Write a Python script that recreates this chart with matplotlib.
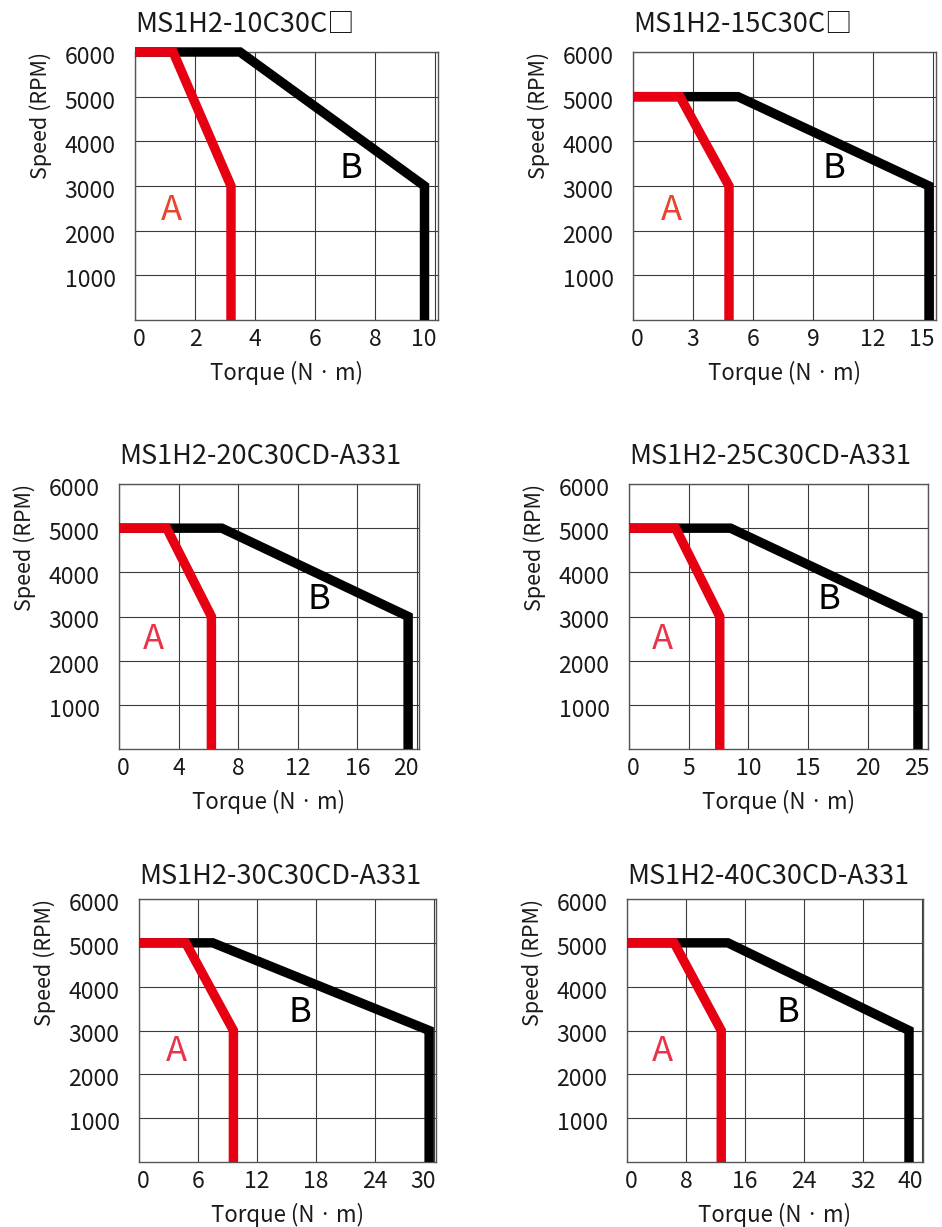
import matplotlib
matplotlib.use("Agg")
import matplotlib.pyplot as plt
from matplotlib.transforms import ScaledTranslation

plt.rcParams['font.family'] = ['Noto Sans CJK SC', 'DejaVu Sans']

# Servo motor models (3000 rpm rated series)
models = ["MS1H2-10C30C□", "MS1H2-15C30C□",
          "MS1H2-20C30CD-A331", "MS1H2-25C30CD-A331",
          "MS1H2-30C30CD-A331", "MS1H2-40C30CD-A331"]

# Speed points (RPM)
max_speed = [6000, 5000, 5000, 5000, 5000, 5000]
rated_speed = [3000, 3000, 3000, 3000, 3000, 3000]

# A: continuous operating region boundary (torque, N·m)
cont_knee_torque = [1.27, 2.35, 3.2, 3.9, 4.75, 6.4]
cont_rated_torque = [3.2, 4.8, 6.2, 7.6, 9.6, 12.8]

# B: short-time (peak) operating region boundary (torque, N·m)
peak_knee_torque = [3.5, 5.25, 6.9, 8.5, 7.5, 13.7]
peak_max_torque = [9.65, 14.8, 19.4, 24.2, 29.5, 38.3]

# Torque axis ticks per model
torque_ticks = [[0, 2, 4, 6, 8, 10],
                [0, 3, 6, 9, 12, 15],
                [0, 4, 8, 12, 16, 20],
                [0, 5, 10, 15, 20, 25],
                [0, 6, 12, 18, 24, 30],
                [0, 8, 16, 24, 32, 40]]
torque_max = [10.1, 15.15, 20.13, 25.04, 30.2, 40.2]
speed_ticks = [1000, 2000, 3000, 4000, 5000, 6000]

# Layout (pixel boxes: left, top, right, bottom) on a 942 x 1227 canvas
W, H = 942, 1227
boxes = [(135, 52, 438, 320), (633, 52, 936, 320),
         (119, 484, 419, 749), (629, 484, 928, 749),
         (139, 899, 436, 1162), (627, 899, 923, 1162)]
title_pads = [14.5, 14.5, 14.5, 14.5, 10.5, 10.5]

# Region label placement (data coords) and colours
label_a_pos = [(1.23, 2460), (1.9, 2460), (2.28, 2470), (2.76, 2470), (3.76, 2510), (4.75, 2510)]
label_b_pos = [(7.2, 3400), (10.05, 3400), (13.4, 3375), (16.75, 3375), (16.4, 3400), (21.9, 3400)]
label_a_colors = ['#E8442F', '#E8442F', '#E83448', '#E83448', '#E83448', '#E83448']

RED = '#E60012'
BLACK = '#000000'
GRID = '#3a3a3a'
TEXT = '#1a1a1a'
LW = 6.8

fig = plt.figure(figsize=(W / 100, H / 100), dpi=100)

for i, (l, t, r, b) in enumerate(boxes):
    ax = fig.add_axes([l / W, 1 - b / H, (r - l) / W, (b - t) / H])

    # Peak region boundary (B)
    bx = [0, peak_knee_torque[i], peak_max_torque[i], peak_max_torque[i]]
    by = [max_speed[i], max_speed[i], rated_speed[i], 0]
    ax.plot(bx, by, color=BLACK, lw=LW, solid_joinstyle='miter',
            solid_capstyle='butt', clip_on=False, zorder=3)

    # Continuous region boundary (A)
    axs = [0, cont_knee_torque[i], cont_rated_torque[i], cont_rated_torque[i]]
    ays = [max_speed[i], max_speed[i], rated_speed[i], 0]
    ax.plot(axs, ays, color=RED, lw=LW, solid_joinstyle='miter',
            solid_capstyle='butt', clip_on=False, zorder=4)

    ax.set_xlim(0, torque_max[i])
    ax.set_ylim(0, 6000)
    ax.set_xticks(torque_ticks[i])
    ax.set_xticklabels([str(v) for v in torque_ticks[i]])
    ax.set_yticks(speed_ticks)
    ax.set_yticklabels([str(v) for v in speed_ticks])

    ax.grid(True, color=GRID, lw=0.8)
    ax.set_axisbelow(True)
    for sp in ax.spines.values():
        sp.set_color('#555555')
        sp.set_linewidth(1.0)

    ax.tick_params(axis='both', length=0, labelsize=16.5, colors=TEXT)
    ax.tick_params(axis='x', pad=6)
    ax.tick_params(axis='y', pad=14)

    # Nudge the end tick labels inward, as in the printed catalogue
    xlabels = ax.get_xticklabels()
    xlabels[0].set_transform(xlabels[0].get_transform() +
                             ScaledTranslation(4 / 100, 0, fig.dpi_scale_trans))
    xlabels[-1].set_transform(xlabels[-1].get_transform() +
                              ScaledTranslation(-11 / 100, 0, fig.dpi_scale_trans))
    for lbl in ax.get_yticklabels():
        lbl.set_transform(lbl.get_transform() +
                          ScaledTranslation(0, -3 / 100, fig.dpi_scale_trans))

    ax.set_xlabel("Torque (N\u2009·\u2009m)", fontsize=16, color=TEXT, labelpad=7,
                  family=['Noto Sans CJK JP', 'DejaVu Sans'])
    ax.set_ylabel("Speed (RPM)", fontsize=15.5, color=TEXT, labelpad=9, loc='top')
    ax.set_title(models[i], loc='left', fontsize=19.5, color=TEXT, pad=title_pads[i])

    ax.text(label_a_pos[i][0], label_a_pos[i][1], "A", color=label_a_colors[i],
            fontsize=25, ha='center', va='center', zorder=5)
    ax.text(label_b_pos[i][0], label_b_pos[i][1], "B", color=BLACK,
            fontsize=25, ha='center', va='center', zorder=5)

fig.savefig("out.png", dpi=100, facecolor='white')
